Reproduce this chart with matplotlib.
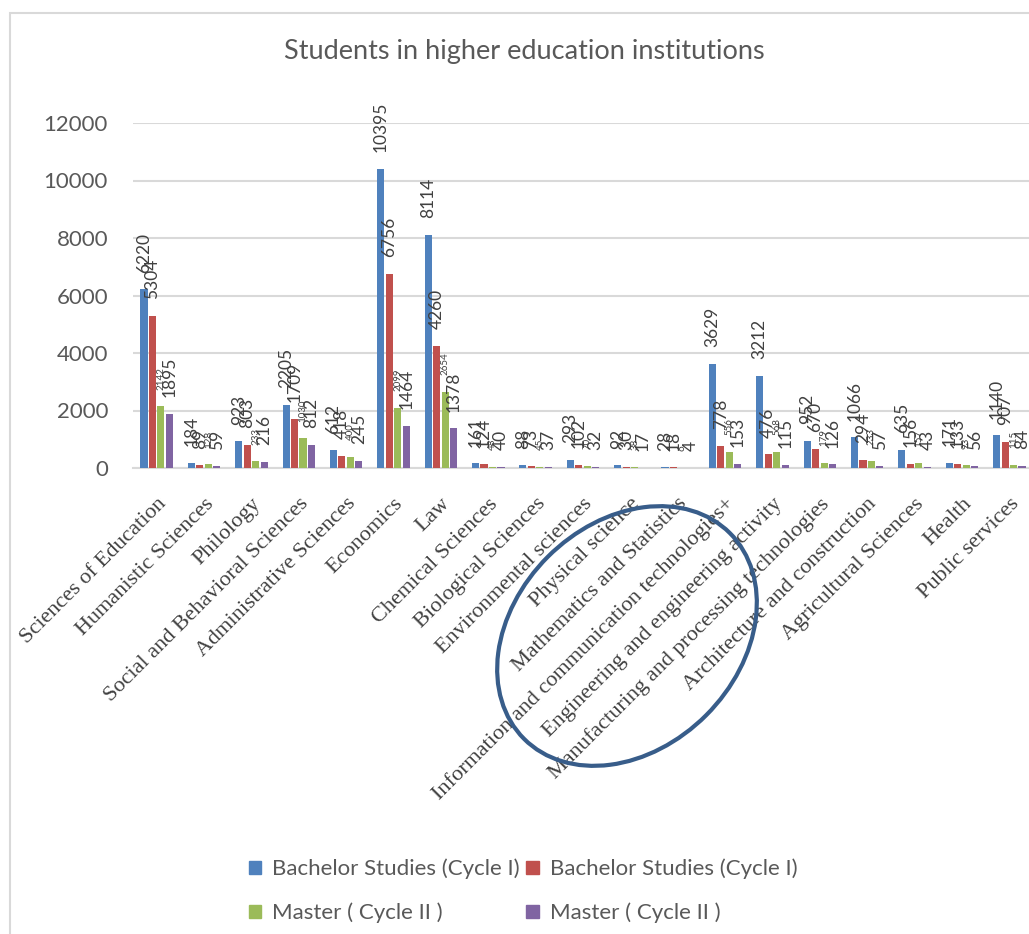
import numpy as np
import matplotlib
matplotlib.use('Agg')
import matplotlib.pyplot as plt
from matplotlib.patches import Ellipse, Rectangle, Patch
from matplotlib.transforms import IdentityTransform

# data
categories = ['Sciences of Education', 'Humanistic Sciences', 'Philology',
              'Social and Behavioral Sciences', 'Administrative Sciences', 'Economics',
              'Law', 'Chemical Sciences', 'Biological Sciences', 'Environmental sciences',
              'Physical science', 'Mathematics and Statistics',
              'Information and communication technologies+',
              'Engineering and engineering activity',
              'Manufacturing and processing technologies', 'Architecture and construction',
              'Agricultural Sciences', 'Health', 'Public services']
bachelor_a = [6220, 184, 923, 2205, 612, 10395, 8114, 161, 88, 293, 92, 28, 3629, 3212, 952, 1066, 635, 171, 1140]
bachelor_b = [5304, 89, 803, 1709, 418, 6756, 4260, 124, 73, 102, 30, 18, 778, 476, 670, 294, 156, 133, 907]
master_a = [2142, 128, 233, 1030, 400, 2099, 2654, 48, 45, 70, 38, 6, 556, 568, 179, 233, 157, 93, 115]
master_b = [1895, 59, 216, 812, 245, 1464, 1378, 40, 37, 32, 17, 4, 153, 115, 126, 57, 43, 56, 84]
series_names = ['Bachelor Studies (Cycle I)', 'Bachelor Studies (Cycle I)',
                'Master ( Cycle II )', 'Master ( Cycle II )']
colors = ['#4F81BD', '#C0504D', '#9BBB59', '#8064A2']
yticks = [0, 2000, 4000, 6000, 8000, 10000, 12000]

W, H = 1029, 934
fig = plt.figure(figsize=(W / 100, H / 100), dpi=100)
ax = fig.add_axes([133 / W, 1 - 468 / H, 900 / W, 345 / H])

x = np.arange(len(categories))
slot = 0.179
bw = 0.15
all_series = [bachelor_a, bachelor_b, master_a, master_b]
for i, vals in enumerate(all_series):
    pos = x + (i - 1.5) * slot
    bars = ax.bar(pos, vals, width=bw, color=colors[i], edgecolor='none', zorder=3)
    fs = 7 if i == 2 else 12.5
    for xp, v in zip(pos, vals):
        ax.annotate(str(v), (xp, v), xytext=(0, 12), textcoords='offset points',
                    rotation=90, ha='center', va='bottom', fontsize=fs,
                    color='#404040', family='Lato')

ax.set_xlim(-0.5, len(categories) - 0.5)
ax.set_ylim(0, 12000)
ax.set_yticks(yticks)
ax.set_yticklabels([str(t) for t in yticks], fontsize=16, color='#595959', family='Lato')
ax.grid(axis='y', color='#D9D9D9', linewidth=1.5, zorder=0)
ax.set_axisbelow(True)
for s in ['top', 'right', 'left']:
    ax.spines[s].set_visible(False)
ax.spines['bottom'].set_color('#D9D9D9')
ax.spines['bottom'].set_linewidth(1.5)
ax.tick_params(axis='y', length=0, pad=18)
ax.tick_params(axis='x', length=0, pad=19)
ax.set_xticks(x)
ax.set_xticklabels(categories, rotation=45, ha='right', va='top', rotation_mode='anchor',
                   fontsize=16, family='Liberation Serif', color='#404040')

fig.text(524 / W, 1 - 52 / H, 'Students in higher education institutions',
         ha='center', va='center', fontsize=19.5, color='#595959', family='Lato')

# highlight ellipse
ell = Ellipse((627, H - 636), 291, 224, angle=45, fill=False, edgecolor='#385D8A',
              linewidth=3, transform=IdentityTransform(), zorder=10)
fig.patches.append(ell)

# chart border
border = Rectangle((10, -20), W + 40, H - 13 + 20, fill=False, edgecolor='#D9D9D9',
                   linewidth=1.5, transform=IdentityTransform())
fig.patches.append(border)

handles = [Patch(color=colors[i]) for i in [0, 2, 1, 3]]
labels = [series_names[i] for i in [0, 2, 1, 3]]
fig.legend(handles, labels, loc='center', bbox_to_anchor=(523 / W, 1 - 891 / H), ncol=2,
           frameon=False, prop={'family': 'Lato', 'size': 16}, labelcolor='#595959',
           handlelength=0.55, handleheight=0.55, handletextpad=0.5, columnspacing=0.3,
           labelspacing=1.05)

fig.savefig('out.png', dpi=100)
